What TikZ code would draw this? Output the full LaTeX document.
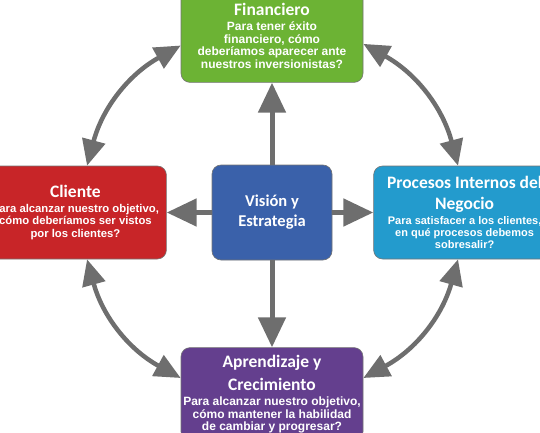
\documentclass[tikz,border=0pt]{standalone}
\usepackage{fontspec}
\setmainfont{Liberation Sans}
\newfontfamily\titlefont{Carlito}
\definecolor{verde}{RGB}{108, 179, 52}
\definecolor{rojo}{RGB}{200, 37, 40}
\definecolor{celeste}{RGB}{35, 155, 205}
\definecolor{azul}{RGB}{58, 97, 170}
\definecolor{morado}{RGB}{100, 63, 142}
\definecolor{gris}{RGB}{110, 110, 110}
\usepackage{tikz}
\usepackage{xcolor}
\usetikzlibrary{positioning,arrows.meta}
\newcommand{\titulo}[1]{{\titlefont\bfseries\fontsize{17.5}{20}\selectfont #1}}

\begin{document}
\begin{tikzpicture}[x=1pt, y=1pt,
    caja/.style={draw=black!55, line width=0.6pt, rounded corners=9pt, text=white,
        minimum width=182pt, minimum height=93pt, align=center, inner sep=2pt},
    flecha/.style={draw=gris, line width=5pt, -{Triangle[length=30pt,width=27pt]}},
    doble/.style={draw=gris, line width=4.5pt,
        {Triangle[length=26pt,width=23pt]}-{Triangle[length=26pt,width=23pt]}}]
    \useasboundingbox (0,0) rectangle (540,432);
    \clip (0,0) rectangle (540,432);

    % centro
    \node[caja, fill=azul, minimum width=120pt, minimum height=95pt,
        font=\titlefont\bfseries\fontsize{16.5}{20}\selectfont] (vision) at (272,219.5) {Visión y\\Estrategia};

    % perspectivas
    \node[caja, fill=verde, above=82pt of vision, font=\bfseries\fontsize{12}{12.5}\selectfont] (fin) {
        \titulo{Financiero}\\[2.5pt]
        Para tener éxito\\financiero, cómo\\deberíamos aparecer ante\\nuestros inversionistas?};
    \node[caja, fill=rojo, left=45pt of vision, font=\bfseries\fontsize{11.3}{12.5}\selectfont] (cli) {
        \titulo{Cliente}\\[2.5pt]
        Para alcanzar nuestro objetivo,\\cómo deberíamos ser vistos\\por los clientes?};
    \node[caja, fill=celeste, right=41pt of vision, font=\bfseries\fontsize{11}{12.3}\selectfont] (neg) {
        \titulo{Procesos Internos del}\\[7.7pt]\titulo{Negocio}\\[2.7pt]
        Para satisfacer a los clientes,\\en qué procesos debemos\\sobresalir?};
    \node[caja, fill=morado, below=87pt of vision, font=\bfseries\fontsize{12}{12.5}\selectfont] (apr) {
        \titulo{Aprendizaje y}\\[7.5pt]\titulo{Crecimiento}\\[2.5pt]
        Para alcanzar nuestro objetivo,\\cómo mantener la habilidad\\de cambiar y progresar?};

    % flechas rectas
    \draw[flecha] (vision) -- (fin);
    \draw[flecha] (vision) -- (cli);
    \draw[flecha] (vision) -- (neg);
    \draw[flecha] (vision) -- (apr);

    % flechas curvas
    \draw[doble] (fin.186) to[bend right=23] (cli.76);
    \draw[doble] (fin.355) to[bend left=23] (neg.98);
    \draw[doble] (cli.284) to[bend right=23] (apr.170);
    \draw[doble] (apr.10) to[bend right=23] (neg.262);
\end{tikzpicture}
\end{document}
